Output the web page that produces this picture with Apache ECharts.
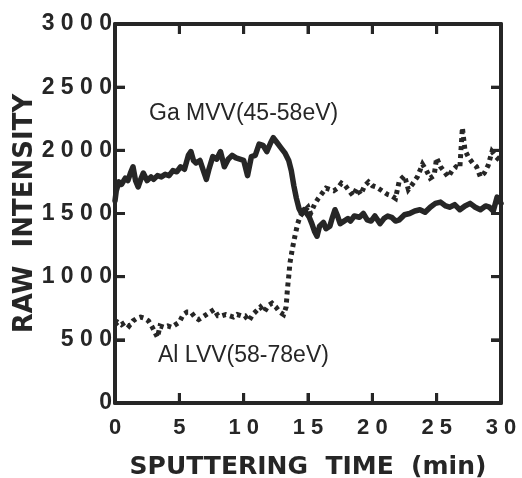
<!DOCTYPE html>
<html>
<head>
<meta charset="utf-8">
<script src="https://cdn.jsdelivr.net/npm/echarts@6/dist/echarts.min.js"></script>
<style>
html,body{margin:0;padding:0;background:#fff;}
#chart{width:522px;height:478px;}
</style>
</head>
<body>
<div id="chart"></div>
<script>
// ---- data ----
var xTicks = [0, 5, 10, 15, 20, 25, 30];
var yTicks = [0, 500, 1000, 1500, 2000, 2500, 3000];

var gaName = 'Ga MVV(45-58eV)';
var gaTime = [0.0,0.1,0.3,0.5,0.8,1.0,1.2,1.4,1.6,1.8,2.0,2.2,2.5,2.8,3.0,3.3,3.6,3.9,4.2,4.5,4.8,5.1,5.4,5.7,5.9,6.1,6.3,6.6,6.9,7.1,7.3,7.6,7.9,8.2,8.5,8.8,9.1,9.4,9.7,10.0,10.3,10.6,10.9,11.2,11.5,11.8,12.1,12.3,12.6,12.9,13.2,13.5,13.7,13.9,14.1,14.3,14.5,14.7,14.9,15.1,15.3,15.5,15.7,15.9,16.2,16.4,16.7,16.9,17.1,17.3,17.5,17.8,18.1,18.3,18.6,19.0,19.3,19.6,19.9,20.2,20.6,20.9,21.2,21.5,21.8,22.1,22.5,22.9,23.3,23.7,24.1,24.5,24.9,25.3,25.7,26.0,26.4,26.8,27.2,27.6,28.0,28.4,28.8,29.1,29.4,29.7,30.0];
var gaValues = [1600,1680,1750,1730,1780,1760,1820,1870,1760,1710,1770,1820,1760,1790,1770,1800,1790,1810,1800,1840,1830,1870,1850,1960,1990,1920,1900,1920,1830,1770,1850,1950,1930,1990,1870,1930,1960,1940,1930,1920,1800,1950,1960,2050,2040,1990,2060,2100,2060,2020,1980,1920,1840,1720,1620,1540,1500,1530,1500,1470,1420,1360,1320,1400,1430,1380,1400,1470,1530,1480,1420,1440,1460,1440,1480,1470,1500,1450,1440,1480,1420,1460,1480,1470,1440,1450,1490,1500,1520,1530,1510,1550,1580,1590,1560,1550,1570,1530,1560,1580,1550,1530,1560,1550,1520,1630,1580];

var alName = 'Al LVV(58-78eV)';
var alTime = [0.0,0.2,0.5,0.8,1.1,1.4,1.7,2.0,2.3,2.6,2.9,3.1,3.3,3.5,3.8,4.1,4.4,4.7,5.0,5.3,5.6,5.9,6.2,6.5,6.8,7.1,7.4,7.7,8.0,8.3,8.6,8.9,9.2,9.5,9.8,10.1,10.4,10.7,11.0,11.3,11.6,11.9,12.2,12.5,12.8,13.1,13.3,13.4,13.5,13.6,13.8,14.0,14.2,14.4,14.7,15.0,15.2,15.5,15.8,16.1,16.4,16.7,17.0,17.3,17.6,17.9,18.2,18.5,18.8,19.1,19.4,19.7,20.0,20.3,20.6,20.9,21.2,21.5,21.8,22.1,22.5,22.8,23.1,23.5,23.9,24.2,24.5,24.8,25.0,25.3,25.6,25.9,26.2,26.5,26.8,27.0,27.2,27.5,27.8,28.1,28.4,28.7,29.0,29.3,29.6,29.9];
var alValues = [620,640,620,640,610,650,670,680,670,650,600,560,520,610,600,610,600,620,640,700,720,720,680,660,680,700,720,740,690,690,700,690,680,700,690,690,650,700,730,760,720,770,790,760,720,700,760,900,1000,1110,1230,1330,1420,1480,1520,1550,1500,1570,1620,1660,1700,1690,1680,1700,1740,1720,1680,1640,1700,1650,1720,1750,1720,1710,1690,1670,1650,1640,1620,1760,1800,1690,1730,1790,1890,1840,1780,1800,1940,1870,1830,1790,1840,1870,1860,2180,2000,1940,1900,1870,1790,1820,1880,1990,1950,1920];

var xName = 'SPUTTERING  TIME  (min)';
var yName = 'RAW  INTENSITY';

// ---- chart ----
var INK = '#262626';
var FONT = '"Liberation Sans", Arial, Helvetica, sans-serif';
var NAMEFONT = '"DejaVu Sans", "Liberation Sans", Arial, sans-serif';
var TICKLEN = 10;
var GRID = {left: 115, right: 21, top: 24, bottom: 75};
function spaced(v){ return String(v).split('').join(' '); }
function pairs(t, v){ return t.map(function(x, i){ return [x, v[i]]; }); }
function mkLine(){ return {show: true, onZero: false, lineStyle: {color: INK, width: 4}}; }
function mkTick(){ return {show: true, inside: true, length: TICKLEN, lineStyle: {color: INK, width: 3}}; }

var xMin = xTicks[0], xMax = xTicks[xTicks.length-1];
var yMin = yTicks[0], yMax = yTicks[yTicks.length-1];

var labels = [
  {id: 'gaText', type: 'text', left: 149, top: 102, z: 10,
   style: {text: gaName, fill: INK, font: '23px ' + FONT}},
  {id: 'alText', type: 'text', left: 158, top: 344, z: 10,
   style: {text: alName, fill: INK, font: '23px ' + FONT}}
];

var chart = echarts.init(document.getElementById('chart'));

chart.setOption({
  animation: false,
  backgroundColor: '#fff',
  grid: {left: GRID.left, right: GRID.right, top: GRID.top, bottom: GRID.bottom, outerBoundsMode: 'none', containLabel: false},
  xAxis: [
    {type: 'value', min: xMin, max: xMax, interval: xTicks[1]-xTicks[0],
     position: 'bottom', axisLine: mkLine(), axisTick: mkTick(), splitLine: {show: false},
     axisLabel: {formatter: spaced, color: INK, fontFamily: FONT, fontWeight: 'bold', fontSize: 22, margin: 14},
     name: xName, nameLocation: 'middle', nameGap: 52, nameMoveOverlap: false,
     nameTextStyle: {color: INK, fontFamily: NAMEFONT, fontWeight: 'bold', fontSize: 25}},
    {type: 'value', min: xMin, max: xMax, interval: xTicks[1]-xTicks[0],
     position: 'top', axisLine: mkLine(), axisTick: mkTick(), splitLine: {show: false},
     axisLabel: {show: false}}
  ],
  yAxis: [
    {type: 'value', min: yMin, max: yMax, interval: yTicks[1]-yTicks[0],
     position: 'left', axisLine: mkLine(), axisTick: mkTick(), splitLine: {show: false},
     axisLabel: {formatter: spaced, color: INK, fontFamily: FONT, fontWeight: 'bold', fontSize: 23, margin: 3},
     name: yName, nameLocation: 'middle', nameGap: 77, nameMoveOverlap: false,
     nameTextStyle: {color: INK, fontFamily: NAMEFONT, fontWeight: 'bold', fontSize: 26}},
    {type: 'value', min: yMin, max: yMax, interval: yTicks[1]-yTicks[0],
     position: 'right', axisLine: mkLine(), axisTick: mkTick(), splitLine: {show: false},
     axisLabel: {show: false}}
  ],
  series: [
    {name: gaName, type: 'line', data: pairs(gaTime, gaValues), showSymbol: false,
     lineStyle: {color: INK, width: 5.5, cap: 'round', join: 'round'}},
    {name: alName, type: 'line', data: pairs(alTime, alValues), showSymbol: false,
     lineStyle: {color: INK, width: 5, type: [4, 4], cap: 'butt', join: 'miter'}}
  ],
  graphic: labels
});

// inward tick marks on all four sides, placed through the chart's own scales
function px(v){
  var p = null;
  try { p = chart.convertToPixel({gridIndex: 0}, v); } catch (e) { p = null; }
  if (!p || !isFinite(p[0]) || !isFinite(p[1])) {
    try { p = chart.convertToPixel({xAxisIndex: 0, yAxisIndex: 0}, v); } catch (e) { p = null; }
  }
  if (!p || !isFinite(p[0]) || !isFinite(p[1])) {
    var w = chart.getWidth() - GRID.left - GRID.right, h = chart.getHeight() - GRID.top - GRID.bottom;
    p = [GRID.left + (v[0] - xMin) / (xMax - xMin) * w,
         GRID.top + (1 - (v[1] - yMin) / (yMax - yMin)) * h];
  }
  return p;
}
try {
  var tickEls = [];
  xTicks.slice(1, -1).forEach(function(v, i){
    var b = px([v, yMin]), t = px([v, yMax]);
    tickEls.push({id: 'xb' + i, type: 'line', z: 10, shape: {x1: b[0], y1: b[1], x2: b[0], y2: b[1] - TICKLEN}, style: {stroke: INK, lineWidth: 3}});
    tickEls.push({id: 'xt' + i, type: 'line', z: 10, shape: {x1: t[0], y1: t[1], x2: t[0], y2: t[1] + TICKLEN}, style: {stroke: INK, lineWidth: 3}});
  });
  yTicks.slice(1, -1).forEach(function(v, i){
    var l = px([xMin, v]), r = px([xMax, v]);
    tickEls.push({id: 'yl' + i, type: 'line', z: 10, shape: {x1: l[0], y1: l[1], x2: l[0] + TICKLEN, y2: l[1]}, style: {stroke: INK, lineWidth: 3}});
    tickEls.push({id: 'yr' + i, type: 'line', z: 10, shape: {x1: r[0], y1: r[1], x2: r[0] - TICKLEN, y2: r[1]}, style: {stroke: INK, lineWidth: 3}});
  });
  chart.setOption({graphic: labels.concat(tickEls)});
} catch (e) {
  if (window.console) console.error(e);
}
</script>
</body>
</html>
